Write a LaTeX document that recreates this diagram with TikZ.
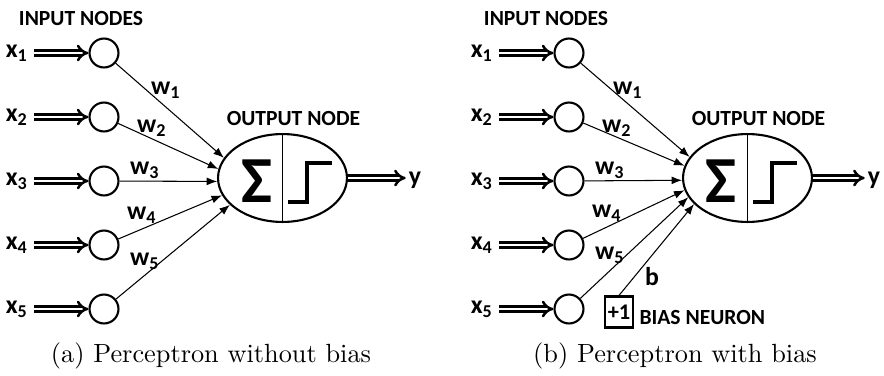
\documentclass[tikz,border=0pt]{standalone}
\usepackage{fontspec}
\newfontfamily\carlito{Carlito}
\usetikzlibrary{shapes.geometric,arrows.meta}
\tikzset{
   innode/.style={circle,draw,line width=0.8pt,minimum size=11pt,inner sep=0pt},
   outnode/.style={ellipse,draw,line width=0.8pt,minimum width=49pt,minimum height=33.4pt,inner sep=0pt},
   inarrow/.style={double,double distance=1.1pt,line width=0.95pt,-{Implies},shorten <=1pt},
   warrow/.style={line width=0.4pt,-{Latex[length=4pt,width=3pt]}},
   stepline/.style={line width=1.5pt},
   lbl/.style={font=\carlito\bfseries\fontsize{9.8}{10}\selectfont,inner sep=1pt},
   head/.style={font=\carlito\bfseries\fontsize{8.2}{9}\selectfont,inner sep=0pt},
   sigma/.style={font=\carlito\bfseries\fontsize{25}{25}\selectfont,inner sep=0pt}
}
\begin{document}
\begin{tikzpicture}[x=0.38pt,y=-0.38pt]
   \useasboundingbox (0,0) rectangle (884,375);

   % (a) without bias
   \node[head] (IN) at (81,18.5) {INPUT NODES};
   \node[head] (OUT) at (293.5,118.5) {OUTPUT NODE};
   \node[innode] (A1) at (104,53) {};
   \node[innode] (A2) at (104,117) {};
   \node[innode] (A3) at (104,181) {};
   \node[innode] (A4) at (104,245) {};
   \node[innode] (A5) at (104,309) {};
   \node[lbl] (X1) at (17,53) {x\textsubscript{1}};
   \node[lbl] (X2) at (17,117) {x\textsubscript{2}};
   \node[lbl] (X3) at (17,181) {x\textsubscript{3}};
   \node[lbl] (X4) at (17,245) {x\textsubscript{4}};
   \node[lbl] (X5) at (17,309) {x\textsubscript{5}};
   \node[outnode] (S) at (282.5,178) {};
   \draw[line width=0.4pt] (S.north) -- (S.south);
   \node[sigma] (SIG) at (256.5,181.5) {Σ};
   \draw[stepline] ([shift={(5.5,24)}]S.center) -- ++(19,0) -- ++(0,-39) -- ++(25,0);
   \node[lbl] (Y) at (415,180.5) {y};
   \draw[inarrow] (X1) -- (A1);
   \draw[inarrow] (X2) -- (A2);
   \draw[inarrow] (X3) -- (A3);
   \draw[inarrow] (X4) -- (A4);
   \draw[inarrow] (X5) -- (A5);
   \draw[warrow] (A1) -- (S.161);
   \draw[warrow] (A2) -- (S.172);
   \draw[warrow] (A3) -- (S.183);
   \draw[warrow] (A4) -- (S.196);
   \draw[warrow] (A5) -- (S.207);
   \node[lbl] (W1) at (166,90) {w\textsubscript{1}};
   \node[lbl] (W2) at (152,128) {w\textsubscript{2}};
   \node[lbl] (W3) at (145,170) {w\textsubscript{3}};
   \node[lbl] (W4) at (142,215) {w\textsubscript{4}};
   \node[lbl] (W5) at (145,261) {w\textsubscript{5}};
   \draw[inarrow,shorten <=0pt] (S.east) -- (S.east -| Y.west);
   \node (CA) at (211,356) {(a) Perceptron without bias};

   % (b) with bias
   \node[head] (IIN) at (546,18.5) {INPUT NODES};
   \node[head] (OOUT) at (758.5,118.5) {OUTPUT NODE};
   \node[innode] (AA1) at (569,53) {};
   \node[innode] (AA2) at (569,117) {};
   \node[innode] (AA3) at (569,181) {};
   \node[innode] (AA4) at (569,245) {};
   \node[innode] (AA5) at (569,309) {};
   \node[lbl] (XX1) at (482,53) {x\textsubscript{1}};
   \node[lbl] (XX2) at (482,117) {x\textsubscript{2}};
   \node[lbl] (XX3) at (482,181) {x\textsubscript{3}};
   \node[lbl] (XX4) at (482,245) {x\textsubscript{4}};
   \node[lbl] (XX5) at (482,309) {x\textsubscript{5}};
   \node[outnode] (SS) at (747.5,178) {};
   \draw[line width=0.4pt] (SS.north) -- (SS.south);
   \node[sigma] (SSIG) at (721,181.5) {Σ};
   \draw[stepline] ([shift={(5.5,24)}]SS.center) -- ++(19,0) -- ++(0,-39) -- ++(25,0);
   \node[lbl] (YY) at (874,180.5) {y};
   \draw[inarrow] (XX1) -- (AA1);
   \draw[inarrow] (XX2) -- (AA2);
   \draw[inarrow] (XX3) -- (AA3);
   \draw[inarrow] (XX4) -- (AA4);
   \draw[inarrow] (XX5) -- (AA5);
   \draw[warrow] (AA1) -- (SS.160);
   \draw[warrow] (AA2) -- (SS.169);
   \draw[warrow] (AA3) -- (SS.182);
   \draw[warrow] (AA4) -- (SS.191);
   \draw[warrow] (AA5) -- (SS.198);
   \node[lbl] (WW1) at (628,90) {w\textsubscript{1}};
   \node[lbl] (WW2) at (617,128) {w\textsubscript{2}};
   \node[lbl] (WW3) at (610,170) {w\textsubscript{3}};
   \node[lbl] (WW4) at (607,213) {w\textsubscript{4}};
   \node[lbl] (WW5) at (610,255) {w\textsubscript{5}};
   \node[draw,line width=0.8pt,minimum width=10.6pt,minimum height=11.8pt,inner sep=0.5pt,
         font=\carlito\bfseries\fontsize{8.5}{9}\selectfont] (BB) at (619,312) {+1};
   \node[head,anchor=west] (BN) at (639,317) {BIAS NEURON};
   \node[lbl] (B) at (652,277) {b};
   \draw[warrow] (BB.north) -- (SS.206);
   \draw[inarrow,shorten <=0pt] (SS.east) -- (SS.east -| YY.west);
   \node (CB) at (675,356) {(b) Perceptron with bias};
\end{tikzpicture}
\end{document}
